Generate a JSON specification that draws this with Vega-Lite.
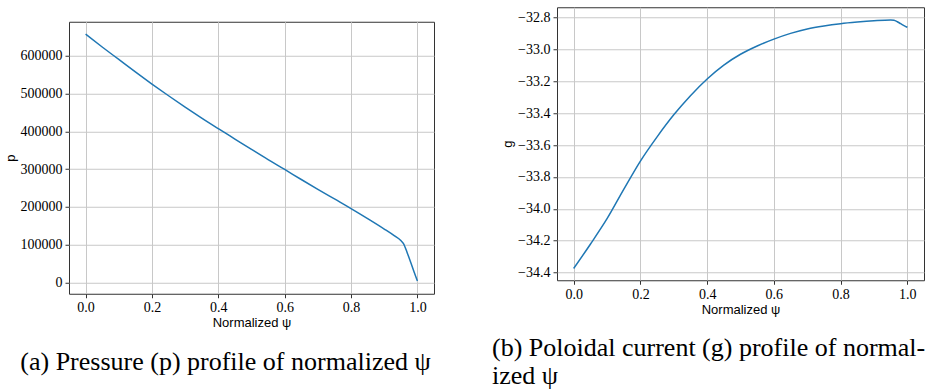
{
  "$schema": "https://vega.github.io/schema/vega-lite/v6.json",
  "background": "white",
  "padding": {"left": 3, "top": 6, "right": 0, "bottom": 0},
  "datasets": {
    "pressure": [
      {"psi": 0.0, "p": 657000}, {"psi": 0.05, "p": 623000}, {"psi": 0.1, "p": 590000},
      {"psi": 0.15, "p": 557000}, {"psi": 0.2, "p": 525000}, {"psi": 0.25, "p": 494000},
      {"psi": 0.3, "p": 464000}, {"psi": 0.35, "p": 435000}, {"psi": 0.4, "p": 407000},
      {"psi": 0.45, "p": 379500}, {"psi": 0.5, "p": 352000}, {"psi": 0.55, "p": 325000},
      {"psi": 0.6, "p": 299000}, {"psi": 0.65, "p": 272500}, {"psi": 0.7, "p": 246500},
      {"psi": 0.75, "p": 221000}, {"psi": 0.8, "p": 195500}, {"psi": 0.85, "p": 169000},
      {"psi": 0.9, "p": 141500}, {"psi": 0.93, "p": 124000}, {"psi": 0.95, "p": 111000},
      {"psi": 0.958, "p": 103000}, {"psi": 0.97, "p": 77000}, {"psi": 0.98, "p": 53000},
      {"psi": 0.99, "p": 28000}, {"psi": 1.0, "p": 4000}
    ],
    "current": [
      {"psi": 0.0, "g": -34.374}, {"psi": 0.05, "g": -34.222}, {"psi": 0.1, "g": -34.062},
      {"psi": 0.15, "g": -33.878}, {"psi": 0.2, "g": -33.7}, {"psi": 0.25, "g": -33.548},
      {"psi": 0.3, "g": -33.41}, {"psi": 0.35, "g": -33.29}, {"psi": 0.4, "g": -33.185},
      {"psi": 0.45, "g": -33.098}, {"psi": 0.5, "g": -33.03}, {"psi": 0.55, "g": -32.978},
      {"psi": 0.6, "g": -32.935}, {"psi": 0.65, "g": -32.899}, {"psi": 0.7, "g": -32.871},
      {"psi": 0.75, "g": -32.852}, {"psi": 0.8, "g": -32.838}, {"psi": 0.85, "g": -32.828},
      {"psi": 0.9, "g": -32.82}, {"psi": 0.95, "g": -32.815}, {"psi": 0.96, "g": -32.817},
      {"psi": 0.97, "g": -32.826}, {"psi": 0.98, "g": -32.838}, {"psi": 0.99, "g": -32.85},
      {"psi": 1.0, "g": -32.861}
    ]
  },
  "hconcat": [
    {
      "width": 365,
      "height": 272,
      "data": {"name": "pressure"},
      "mark": {"type": "line", "color": "#1f77b4", "strokeWidth": 1.5, "interpolate": "monotone"},
      "encoding": {
        "x": {
          "field": "psi", "type": "quantitative",
          "scale": {"domain": [-0.05, 1.05], "nice": false, "zero": false},
          "axis": {"values": [0, 0.2, 0.4, 0.6, 0.8, 1.0], "format": ".1f", "title": "Normalized ψ", "labelFont": "Liberation Serif"}
        },
        "y": {
          "field": "p", "type": "quantitative",
          "scale": {"domain": [-29700, 689700], "nice": false, "zero": false},
          "axis": {"values": [0, 100000, 200000, 300000, 400000, 500000, 600000], "format": "d", "title": "p", "labelFont": "Liberation Serif"}
        }
      },
      "title": {
        "text": "(a) Pressure (p) profile of normalized ψ",
        "orient": "bottom", "anchor": "middle", "frame": "group", "dx": -26, "offset": 19
      }
    },
    {
      "width": 367,
      "height": 273,
      "data": {"name": "current"},
      "mark": {"type": "line", "color": "#1f77b4", "strokeWidth": 1.5, "interpolate": "monotone"},
      "encoding": {
        "x": {
          "field": "psi", "type": "quantitative",
          "scale": {"domain": [-0.05, 1.05], "nice": false, "zero": false},
          "axis": {"values": [0, 0.2, 0.4, 0.6, 0.8, 1.0], "format": ".1f", "title": "Normalized ψ", "labelFont": "Liberation Serif"}
        },
        "y": {
          "field": "g", "type": "quantitative",
          "scale": {"domain": [-34.448, -32.735], "nice": false, "zero": false},
          "axis": {"values": [-34.4, -34.2, -34.0, -33.8, -33.6, -33.4, -33.2, -33.0, -32.8], "format": ".1f", "title": "g", "labelFont": "Liberation Serif"}
        }
      },
      "title": {
        "text": ["(b) Poloidal current (g) profile of normal-", "ized ψ"],
        "orient": "bottom", "anchor": "start", "frame": "group", "dx": -65, "offset": 19,
        "lineHeight": 28
      }
    }
  ],
  "spacing": 56,
  "center": true,
  "config": {
    "view": {"stroke": "#333", "strokeWidth": 1},
    "axis": {
      "domain": false,
      "grid": true,
      "gridColor": "#c8c8c8",
      "gridWidth": 1,
      "ticks": true,
      "tickColor": "#333",
      "tickSize": 4,
      "tickWidth": 1,
      "labelFont": "Liberation Serif",
      "labelFontSize": 14,
      "labelColor": "#000",
      "labelPadding": 3,
      "labelFlush": false,
      "labelOverlap": false,
      "titleFont": "Liberation Sans",
      "titleFontSize": 13,
      "titleFontWeight": "normal",
      "titleColor": "#000",
      "titlePadding": 2
    },
    "axisY": {"titlePadding": 3},
    "title": {
      "font": "Liberation Serif",
      "fontSize": 26,
      "fontWeight": "normal",
      "color": "#000",
      "lineHeight": 30
    }
  }
}
